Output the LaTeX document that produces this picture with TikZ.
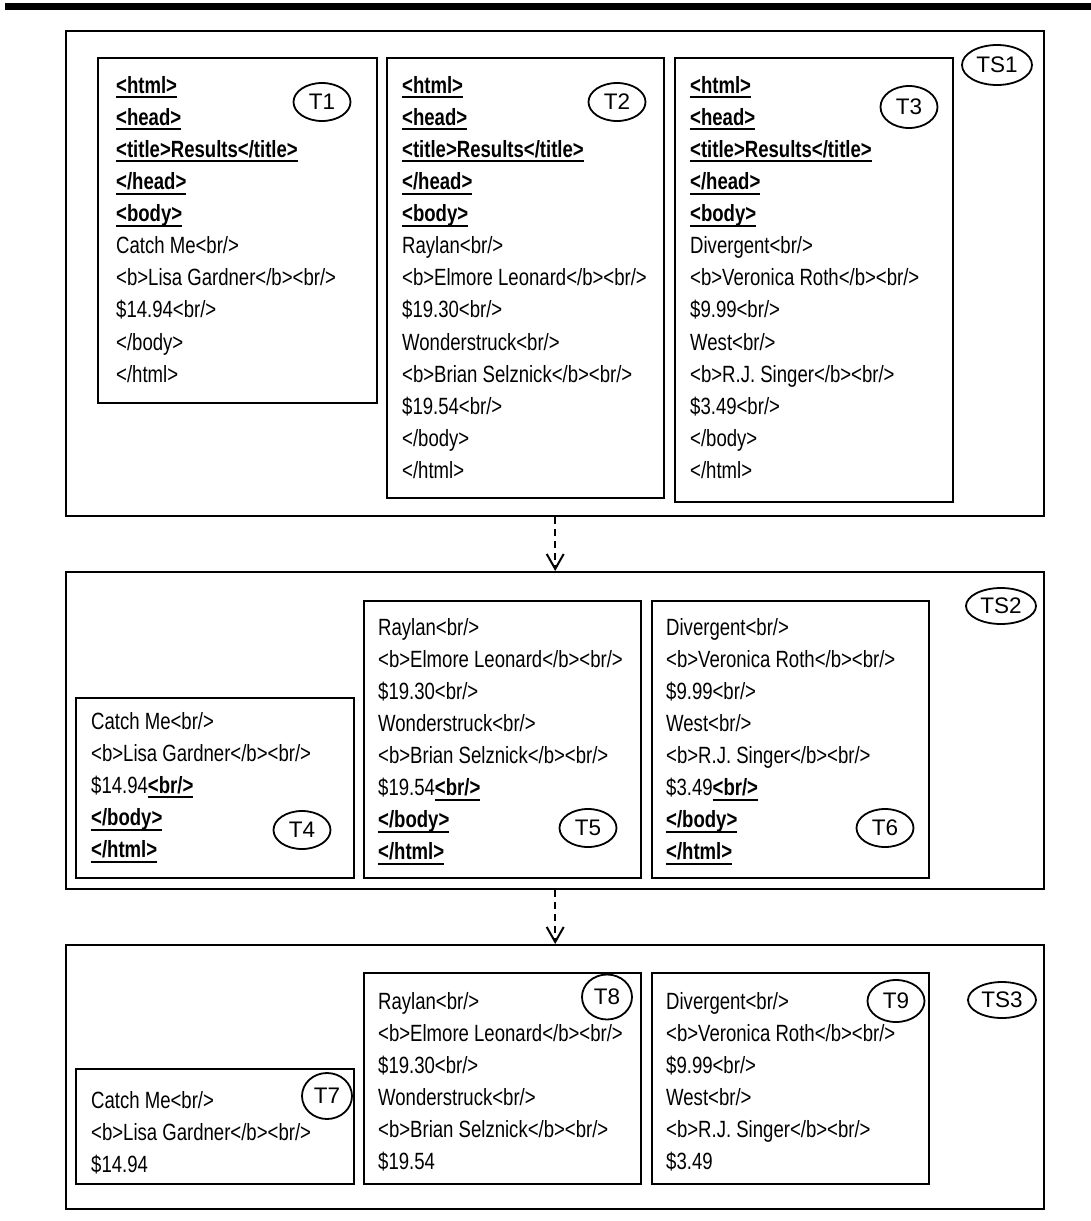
\documentclass[tikz,border=0pt]{standalone}
\usepackage{fontspec}
\setmainfont{Liberation Sans}[FakeStretch=0.79]
\newfontfamily\tagfont{Liberation Sans}
\usetikzlibrary{shapes.geometric,arrows.meta}

% bold, underlined markup tag
\newsavebox{\tagbox}
\newcommand{\tg}[1]{\sbox{\tagbox}{\textbf{#1}}\rlap{\rule[-5pt]{\wd\tagbox}{2pt}}\usebox{\tagbox}}

\begin{document}
\begin{tikzpicture}[x=1pt, y=-1pt,
  setbox/.style={draw, line width=2.4pt, inner sep=0, anchor=north west},
  tbox/.style={draw, line width=2.2pt, inner sep=0, anchor=north west},
  code/.style={anchor=north west, inner sep=0, align=left, font=\fontsize{23.5pt}{32.1pt}\selectfont},
  tag/.style={draw, ellipse, line width=1.8pt, inner sep=0, minimum width=57, minimum height=38, font=\tagfont\fontsize{22.5pt}{22.5pt}\selectfont},
  flow/.style={line width=2pt, dash pattern=on 7pt off 5pt, -{Straight Barb[length=15pt, width=17pt]}}]
  \useasboundingbox (0,0) rectangle (1091,1221);

  % Rule at the top
  \fill (5,3) rectangle (1091,10);

  % Step TS1: whole pages
  \node[setbox, minimum width=978, minimum height=485] (ts1) at (65,30) {};
  \node[tag, minimum width=70, minimum height=40] (ts1tag) at (997,65) {TS1};

  \node[tbox, minimum width=279, minimum height=345] (t1) at (97,57) {};
  \node[code] (t1code) at (116,76) {\tg{<html>}\\ \tg{<head>}\\ \tg{<title>Results</title>}\\ \tg{</head>}\\ \tg{<body>}\\
    Catch Me<br/>\\ <b>Lisa Gardner</b><br/>\\ \$14.94<br/>\\ </body>\\ </html>};
  \node[tag] (t1tag) at (322,102) {T1};

  \node[tbox, minimum width=277, minimum height=440] (t2) at (386,57) {};
  \node[code] (t2code) at (402,76) {\tg{<html>}\\ \tg{<head>}\\ \tg{<title>Results</title>}\\ \tg{</head>}\\ \tg{<body>}\\
    Raylan<br/>\\ <b>Elmore Leonard</b><br/>\\ \$19.30<br/>\\ Wonderstruck<br/>\\ <b>Brian Selznick</b><br/>\\
    \$19.54<br/>\\ </body>\\ </html>};
  \node[tag] (t2tag) at (617,102) {T2};

  \node[tbox, minimum width=278, minimum height=444] (t3) at (674,57) {};
  \node[code] (t3code) at (690,76) {\tg{<html>}\\ \tg{<head>}\\ \tg{<title>Results</title>}\\ \tg{</head>}\\ \tg{<body>}\\
    Divergent<br/>\\ <b>Veronica Roth</b><br/>\\ \$9.99<br/>\\ West<br/>\\ <b>R.J. Singer</b><br/>\\
    \$3.49<br/>\\ </body>\\ </html>};
  \node[tag, minimum height=42] (t3tag) at (909,107) {T3};

  % Step TS2: header removed
  \node[setbox, minimum width=978, minimum height=317] (ts2) at (65,571) {};
  \node[tag, minimum width=70, minimum height=36] (ts2tag) at (1001,606) {TS2};

  \node[tbox, minimum width=278, minimum height=180] (t4) at (75,697) {};
  \node[code] (t4code) at (91,712) {Catch Me<br/>\\ <b>Lisa Gardner</b><br/>\\ \$14.94\tg{<br/>}\\ \tg{</body>}\\ \tg{</html>}};
  \node[tag] (t4tag) at (302,830) {T4};

  \node[tbox, minimum width=277, minimum height=277] (t5) at (363,600) {};
  \node[code] (t5code) at (378,618) {Raylan<br/>\\ <b>Elmore Leonard</b><br/>\\ \$19.30<br/>\\ Wonderstruck<br/>\\
    <b>Brian Selznick</b><br/>\\ \$19.54\tg{<br/>}\\ \tg{</body>}\\ \tg{</html>}};
  \node[tag] (t5tag) at (588,828) {T5};

  \node[tbox, minimum width=277, minimum height=277] (t6) at (651,600) {};
  \node[code] (t6code) at (666,618) {Divergent<br/>\\ <b>Veronica Roth</b><br/>\\ \$9.99<br/>\\ West<br/>\\
    <b>R.J. Singer</b><br/>\\ \$3.49\tg{<br/>}\\ \tg{</body>}\\ \tg{</html>}};
  \node[tag] (t6tag) at (885,828) {T6};

  % Step TS3: records only
  \node[setbox, minimum width=978, minimum height=264] (ts3) at (65,944) {};
  \node[tag, minimum width=68, minimum height=36] (ts3tag) at (1002,1000) {TS3};

  \node[tbox, minimum width=278, minimum height=115] (t7) at (75,1068) {};
  \node[code] (t7code) at (91,1091) {Catch Me<br/>\\ <b>Lisa Gardner</b><br/>\\ \$14.94};
  \node[tag, minimum width=50, minimum height=46] (t7tag) at (327,1096) {T7};

  \node[tbox, minimum width=277, minimum height=211] (t8) at (363,972) {};
  \node[code] (t8code) at (378,992) {Raylan<br/>\\ <b>Elmore Leonard</b><br/>\\ \$19.30<br/>\\ Wonderstruck<br/>\\
    <b>Brian Selznick</b><br/>\\ \$19.54};
  \node[tag, minimum width=50, minimum height=45] (t8tag) at (607,997) {T8};

  \node[tbox, minimum width=277, minimum height=211] (t9) at (651,972) {};
  \node[code] (t9code) at (666,992) {Divergent<br/>\\ <b>Veronica Roth</b><br/>\\ \$9.99<br/>\\ West<br/>\\
    <b>R.J. Singer</b><br/>\\ \$3.49};
  \node[tag, minimum height=42] (t9tag) at (896,1001) {T9};

  % Transitions
  \draw[flow] (ts1.south) -- (ts2.north);
  \draw[flow] (ts2.south) -- (ts3.north);
\end{tikzpicture}
\end{document}
